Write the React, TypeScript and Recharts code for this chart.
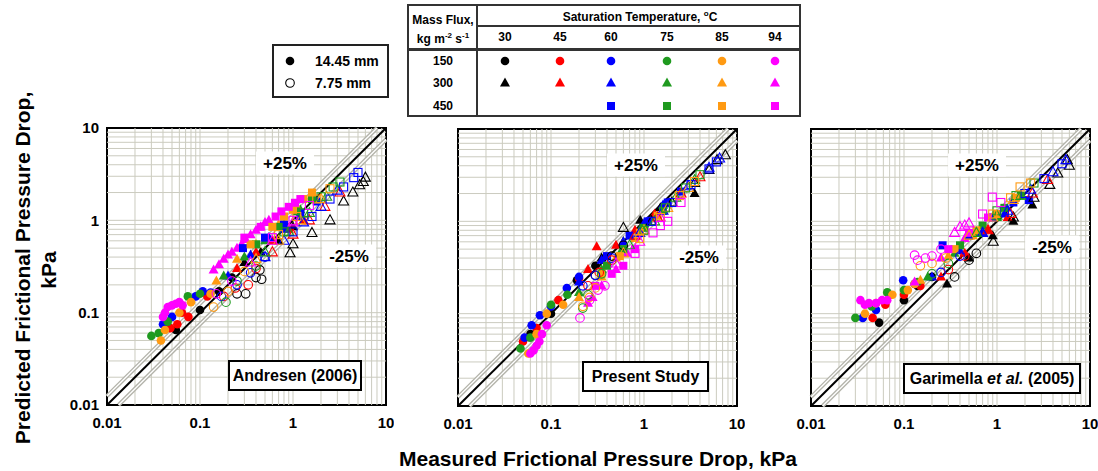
import React from "react";
import {
  ScatterChart,
  Scatter,
  XAxis,
  YAxis,
  ReferenceLine,
  ReferenceArea,
} from "recharts";

type Pt = [number, number];
// mass flux (kg/m2s), saturation temperature (C), [measured, predicted] in kPa
type Group = [number, number, Pt[]];

const fluxes = [150, 300, 450];
const temps = [30, 45, 60, 75, 85, 94];
const axisTicks = [0.01, 0.1, 1, 10];
const gridValues = [
  0.02, 0.03, 0.04, 0.05, 0.06, 0.07, 0.08, 0.09,
  0.1, 0.2, 0.3, 0.4, 0.5, 0.6, 0.7, 0.8, 0.9,
  1, 2, 3, 4, 5, 6, 7, 8, 9,
];

// colour per saturation temperature
const COLORS: Record<number, string> = {
  30: "#000000",
  45: "#ff0000",
  60: "#0000ff",
  75: "#1f9a1f",
  85: "#ff9a12",
  94: "#ff00ff",
};

// ---- Andresen (2006) ----
const andresenLarge: Group[] = [
  [150, 30, [[0.055, 0.065], [0.1, 0.107], [0.16, 0.17], [0.22, 0.24]]],
  [150, 45, [[0.048, 0.068], [0.057, 0.075], [0.064, 0.1], [0.075, 0.09], [0.12, 0.15]]],
  [150, 60, [[0.04, 0.075], [0.05, 0.09], [0.09, 0.15], [0.107, 0.17], [0.13, 0.165]]],
  [150, 75, [[0.03, 0.056], [0.036, 0.06], [0.045, 0.08], [0.074, 0.15], [0.1, 0.16]]],
  [150, 85, [[0.038, 0.05], [0.042, 0.065], [0.06, 0.1], [0.08, 0.13], [0.13, 0.16]]],
  [150, 94, [[0.04, 0.09], [0.042, 0.1], [0.045, 0.115], [0.05, 0.12], [0.055, 0.125], [0.06, 0.13], [0.065, 0.12]]],
  [300, 30, [[0.3, 0.35], [0.45, 0.45], [0.7, 0.6], [1.0, 0.85]]],
  [300, 45, [[0.25, 0.3], [0.4, 0.45], [0.6, 0.6], [0.9, 0.8], [1.3, 1.0]]],
  [300, 60, [[0.2, 0.25], [0.35, 0.42], [0.55, 0.65], [0.8, 0.8], [1.2, 1.1]]],
  [300, 75, [[0.18, 0.25], [0.3, 0.4], [0.5, 0.6], [0.8, 0.9], [1.2, 1.3]]],
  [300, 85, [[0.15, 0.22], [0.25, 0.38], [0.4, 0.55], [0.7, 0.9], [1.1, 1.4]]],
  [300, 94, [[0.14, 0.29], [0.16, 0.33], [0.18, 0.38], [0.2, 0.42], [0.22, 0.45], [0.25, 0.5], [0.28, 0.55], [0.31, 0.62], [0.35, 0.7], [0.4, 0.78], [0.45, 0.85], [0.5, 0.95], [0.55, 1.0]]],
  [450, 60, [[0.29, 0.5], [0.5, 0.65], [0.8, 0.9], [1.2, 1.2], [1.8, 1.6]]],
  [450, 75, [[0.4, 0.55], [0.7, 0.85], [1.1, 1.25], [1.6, 1.7]]],
  [450, 85, [[0.35, 0.55], [0.6, 0.85], [0.8, 1.1], [1.0, 1.3], [1.3, 1.7], [1.6, 2.0]]],
  [450, 94, [[0.3, 0.65], [0.45, 0.85], [0.65, 1.1], [0.75, 1.25], [0.9, 1.4], [1.05, 1.55], [1.2, 1.7]]],
];
const andresenSmall: Group[] = [
  [150, 30, [[0.25, 0.16], [0.31, 0.16], [0.4, 0.24], [0.46, 0.23], [0.44, 0.29]]],
  [150, 45, [[0.18, 0.15], [0.24, 0.185], [0.33, 0.2], [0.4, 0.3]]],
  [150, 60, [[0.17, 0.15], [0.25, 0.2], [0.35, 0.27], [0.5, 0.4]]],
  [150, 75, [[0.19, 0.13], [0.25, 0.22], [0.4, 0.32]]],
  [150, 85, [[0.14, 0.115], [0.2, 0.17], [0.3, 0.28]]],
  [150, 94, [[0.15, 0.16], [0.22, 0.22]]],
  [300, 30, [[0.93, 0.44], [1.0, 0.55], [1.6, 0.73], [2.5, 1.0], [3.5, 1.6], [4.4, 2.0], [5.2, 2.4], [5.7, 2.6], [6.0, 2.9]]],
  [300, 45, [[0.6, 0.45], [1.0, 0.7], [1.5, 1.0], [2.2, 1.4], [3.2, 2.0]]],
  [300, 60, [[0.5, 0.4], [0.8, 0.6], [1.3, 0.95], [2.0, 1.4], [3.0, 2.1]]],
  [300, 75, [[0.5, 0.45], [0.9, 0.75], [1.5, 1.2], [2.3, 1.8]]],
  [300, 85, [[0.4, 0.38], [0.7, 0.6], [1.2, 1.0], [2.0, 1.7]]],
  [300, 94, [[0.35, 0.35], [0.6, 0.6], [1.0, 0.95]]],
  [450, 60, [[1.0, 0.75], [1.6, 1.1], [2.5, 1.7], [3.5, 2.3], [4.5, 2.9], [5.0, 3.3]]],
  [450, 75, [[0.8, 0.75], [1.3, 1.2], [2.0, 1.8], [2.7, 2.3], [3.2, 2.6]]],
  [450, 85, [[0.7, 0.7], [1.1, 1.1], [1.8, 1.7], [2.5, 2.2]]],
  [450, 94, [[0.6, 0.65], [1.0, 1.0], [1.5, 1.45]]],
];

// ---- Present study ----
const presentLarge: Group[] = [
  [150, 30, [[0.06, 0.06], [0.1, 0.1], [0.19, 0.23], [0.3, 0.33]]],
  [150, 45, [[0.05, 0.05], [0.07, 0.07], [0.12, 0.14], [0.2, 0.24]]],
  [150, 60, [[0.052, 0.055], [0.062, 0.075], [0.076, 0.096], [0.1, 0.12], [0.148, 0.19], [0.2, 0.25]]],
  [150, 75, [[0.047, 0.042], [0.06, 0.055], [0.1, 0.125], [0.15, 0.16]]],
  [150, 85, [[0.057, 0.037], [0.07, 0.06], [0.09, 0.1], [0.135, 0.125]]],
  [150, 94, [[0.06, 0.037], [0.065, 0.04], [0.07, 0.045], [0.075, 0.05], [0.08, 0.06], [0.09, 0.075]]],
  [300, 30, [[0.35, 0.4], [0.6, 0.6], [0.91, 1.03], [1.5, 1.4], [3.5, 2.0]]],
  [300, 45, [[0.25, 0.3], [0.31, 0.53], [0.5, 0.55], [0.8, 0.8], [1.3, 1.2]]],
  [300, 60, [[0.2, 0.22], [0.35, 0.38], [0.6, 0.6], [1.0, 0.95], [1.6, 1.5]]],
  [300, 75, [[0.2, 0.17], [0.35, 0.3], [0.55, 0.45], [0.9, 0.8]]],
  [300, 85, [[0.2, 0.15], [0.35, 0.25], [0.5, 0.4], [0.8, 0.65]]],
  [300, 94, [[0.25, 0.13], [0.28, 0.15], [0.35, 0.2], [0.5, 0.3], [0.66, 0.45]]],
  [450, 60, [[0.4, 0.42], [0.7, 0.7], [1.1, 1.0], [1.8, 1.6], [2.5, 2.1]]],
  [450, 75, [[0.4, 0.33], [0.6, 0.5], [1.0, 0.85], [1.6, 1.3]]],
  [450, 85, [[0.35, 0.27], [0.55, 0.42], [0.9, 0.75], [1.4, 1.15]]],
  [450, 94, [[0.3, 0.2], [0.45, 0.27], [0.6, 0.33], [0.8, 0.5]]],
];
const presentSmall: Group[] = [
  [150, 30, [[0.3, 0.26], [0.45, 0.42], [0.6, 0.55]]],
  [150, 45, [[0.25, 0.2], [0.33, 0.28], [0.45, 0.38]]],
  [150, 60, [[0.22, 0.2], [0.3, 0.26], [0.45, 0.4]]],
  [150, 75, [[0.22, 0.115], [0.25, 0.16], [0.35, 0.27]]],
  [150, 85, [[0.22, 0.12], [0.26, 0.15], [0.3, 0.19]]],
  [150, 94, [[0.205, 0.09], [0.26, 0.14], [0.32, 0.18], [0.38, 0.2]]],
  [300, 30, [[0.6, 0.85], [1.2, 1.0], [2.0, 1.6], [3.5, 2.6], [5.0, 3.6], [6.1, 4.6], [7.5, 5.2]]],
  [300, 45, [[0.8, 0.7], [1.4, 1.1], [2.5, 2.0], [4.0, 3.0]]],
  [300, 60, [[0.9, 0.75], [1.6, 1.3], [3.0, 2.4], [5.0, 3.8], [6.5, 4.8]]],
  [300, 75, [[0.7, 0.55], [1.3, 1.0], [2.2, 1.8], [3.5, 2.8]]],
  [300, 85, [[0.6, 0.45], [1.0, 0.8], [1.8, 1.4], [3.0, 2.3]]],
  [300, 94, [[0.5, 0.35], [0.9, 0.6], [1.5, 1.1]]],
  [450, 60, [[1.2, 1.0], [2.0, 1.6], [3.2, 2.5], [5.0, 3.7], [6.0, 4.4]]],
  [450, 75, [[1.0, 0.8], [1.7, 1.4], [2.8, 2.3], [4.0, 3.2]]],
  [450, 85, [[0.9, 0.65], [1.5, 1.1], [2.4, 1.9], [3.5, 2.7]]],
  [450, 94, [[0.8, 0.45], [1.25, 0.75], [1.5, 0.9], [1.8, 1.0], [2.5, 1.6]]],
];

// ---- Garimella et al. (2005) ----
const garimellaLarge: Group[] = [
  [150, 30, [[0.054, 0.08], [0.1, 0.14], [0.14, 0.2], [0.2, 0.25]]],
  [150, 45, [[0.046, 0.09], [0.063, 0.125], [0.1, 0.16], [0.15, 0.2]]],
  [150, 60, [[0.036, 0.09], [0.05, 0.11], [0.07, 0.16], [0.098, 0.23], [0.13, 0.21]]],
  [150, 75, [[0.03, 0.09], [0.045, 0.12], [0.066, 0.17], [0.1, 0.18], [0.14, 0.22]]],
  [150, 85, [[0.038, 0.1], [0.05, 0.13], [0.075, 0.16], [0.11, 0.18], [0.13, 0.21]]],
  [150, 94, [[0.034, 0.14], [0.038, 0.125], [0.042, 0.13], [0.05, 0.13], [0.058, 0.14], [0.066, 0.14]]],
  [300, 30, [[0.29, 0.21], [0.5, 0.4], [0.9, 0.7], [1.5, 1.0], [2.4, 1.5]]],
  [300, 45, [[0.25, 0.25], [0.45, 0.45], [0.8, 0.8], [1.3, 1.1]]],
  [300, 60, [[0.2, 0.25], [0.4, 0.48], [0.7, 0.75], [1.2, 1.2]]],
  [300, 75, [[0.18, 0.25], [0.35, 0.45], [0.6, 0.75], [1.0, 1.1]]],
  [300, 85, [[0.15, 0.23], [0.3, 0.42], [0.55, 0.7], [0.9, 1.1]]],
  [300, 94, [[0.13, 0.22], [0.25, 0.4], [0.45, 0.65]]],
  [450, 60, [[0.26, 0.55], [0.5, 0.7], [0.9, 1.1], [1.5, 1.6], [2.2, 1.7]]],
  [450, 75, [[0.4, 0.55], [0.7, 0.9], [1.2, 1.4], [1.8, 1.9]]],
  [450, 85, [[0.35, 0.5], [0.6, 0.8], [1.0, 1.2], [1.6, 1.8]]],
  [450, 94, [[0.3, 0.5], [0.5, 0.75], [0.8, 1.1]]],
];
const garimellaSmall: Group[] = [
  [150, 30, [[0.35, 0.25], [0.5, 0.38], [0.6, 0.45]]],
  [150, 45, [[0.3, 0.3], [0.45, 0.42]]],
  [150, 60, [[0.25, 0.28], [0.4, 0.42]]],
  [150, 75, [[0.2, 0.27], [0.3, 0.35]]],
  [150, 85, [[0.15, 0.33], [0.2, 0.35], [0.28, 0.4]]],
  [150, 94, [[0.13, 0.43], [0.14, 0.38], [0.17, 0.4], [0.2, 0.42], [0.25, 0.5]]],
  [300, 30, [[0.91, 0.6], [1.5, 1.1], [2.5, 1.8], [3.7, 2.48], [4.5, 3.3], [5.7, 4.6], [6.0, 4.0]]],
  [300, 45, [[0.8, 0.8], [1.4, 1.2], [2.4, 2.0], [3.5, 2.8]]],
  [300, 60, [[0.7, 0.75], [1.3, 1.3], [2.3, 2.2], [4.0, 3.4], [5.5, 4.6]]],
  [300, 75, [[0.6, 0.75], [1.0, 1.15], [1.8, 1.9]]],
  [300, 85, [[0.5, 0.7], [0.9, 1.1], [1.5, 1.7]]],
  [300, 94, [[0.35, 0.75], [0.4, 0.87], [0.45, 0.9], [0.5, 0.95]]],
  [450, 60, [[1.2, 1.3], [2.0, 2.0], [3.2, 2.9], [5.0, 4.2]]],
  [450, 75, [[1.0, 1.3], [1.6, 1.9], [2.5, 2.6]]],
  [450, 85, [[0.9, 1.2], [1.4, 1.8], [1.77, 2.36], [2.3, 2.6]]],
  [450, 94, [[0.7, 1.2], [0.89, 1.83], [1.1, 1.6]]],
];

const FONT = "'Liberation Sans', Arial, sans-serif";
const tickStyle = { fontSize: 15, fontWeight: 700, fill: "#000", fontFamily: FONT };
const GRID = "#cbcbbf";

// one marker glyph: circle = 150, triangle = 300, square = 450
function Glyph({ cx, cy, flux, color, filled }: any) {
  const fill = filled ? color : "none";
  const sw = filled ? 0 : 1.1;
  if (flux === 150)
    return <circle cx={cx} cy={cy} r={4.3} fill={fill} stroke={color} strokeWidth={sw} />;
  if (flux === 300)
    return (
      <polygon
        points={`${cx},${cy - 5.5} ${cx + 5},${cy + 3.5} ${cx - 5},${cy + 3.5}`}
        fill={fill}
        stroke={color}
        strokeWidth={sw}
      />
    );
  return <rect x={cx - 4} y={cy - 4} width={8} height={8} fill={fill} stroke={color} strokeWidth={sw} />;
}

const shapeFor = (flux: number, color: string, filled: boolean) => (props: any) =>
  <Glyph cx={props.cx} cy={props.cy} flux={flux} color={color} filled={filled} />;

const toXY = (pts: Pt[]) => pts.map(([x, y]) => ({ x, y }));

function Panel({ left, top, large, small, showY }: any) {
  return (
    <div style={{ position: "absolute", left, top }}>
      <ScatterChart width={332} height={317} margin={{ top: 10, right: 8, bottom: 0, left: 0 }}>
        <XAxis
          type="number"
          dataKey="x"
          scale="log"
          domain={[0.01, 10]}
          ticks={axisTicks}
          allowDataOverflow
          height={30}
          tickLine={false}
          axisLine={false}
          tickMargin={6}
          tick={tickStyle}
          tickFormatter={(v: number) => String(v)}
        />
        <YAxis
          type="number"
          dataKey="y"
          scale="log"
          domain={[0.01, 10]}
          ticks={axisTicks}
          allowDataOverflow
          width={45}
          tickLine={false}
          axisLine={false}
          tick={showY ? tickStyle : false}
          tickFormatter={(v: number) => String(v)}
        />
        {/* log grid, decades and sub-decades */}
        {gridValues.map((v) => (
          <ReferenceLine key={"gx" + v} x={v} stroke={GRID} strokeWidth={1} />
        ))}
        {gridValues.map((v) => (
          <ReferenceLine key={"gy" + v} y={v} stroke={GRID} strokeWidth={1} />
        ))}
        {/* +/-25% bands */}
        <ReferenceLine segment={[{ x: 0.01, y: 0.0125 }, { x: 8, y: 10 }]} stroke="#b3b3aa" strokeWidth={4} />
        <ReferenceLine segment={[{ x: 0.01, y: 0.0125 }, { x: 8, y: 10 }]} stroke="#ffffff" strokeWidth={1.3} />
        <ReferenceLine segment={[{ x: 0.01333, y: 0.01 }, { x: 10, y: 7.5 }]} stroke="#b3b3aa" strokeWidth={4} />
        <ReferenceLine segment={[{ x: 0.01333, y: 0.01 }, { x: 10, y: 7.5 }]} stroke="#ffffff" strokeWidth={1.3} />
        <ReferenceLine segment={[{ x: 0.01, y: 0.01 }, { x: 10, y: 10 }]} stroke="#000" strokeWidth={2} />
        <ReferenceArea x1={0.01} x2={10} y1={0.01} y2={10} fill="none" stroke="#000" strokeWidth={2} />
        {large.map(([g, t, pts]: Group, i: number) => (
          <Scatter key={"L" + i} data={toXY(pts)} shape={shapeFor(g, COLORS[t], true)} isAnimationActive={false} />
        ))}
        {small.map(([g, t, pts]: Group, i: number) => (
          <Scatter key={"S" + i} data={toXY(pts)} shape={shapeFor(g, COLORS[t], false)} isAnimationActive={false} />
        ))}
      </ScatterChart>
    </div>
  );
}

function Txt({ x, y, size = 12, children, style }: any) {
  return (
    <div
      style={{
        position: "absolute",
        left: x,
        top: y,
        transform: "translate(-50%, -50%)",
        fontSize: size,
        fontWeight: 700,
        whiteSpace: "nowrap",
        lineHeight: 1,
        ...style,
      }}
    >
      {children}
    </div>
  );
}

function Boxed({ x, y, w, h, children }: any) {
  return (
    <div
      style={{
        position: "absolute",
        left: x,
        top: y,
        width: w,
        height: h,
        boxSizing: "border-box",
        border: "2px solid #000",
        background: "#fff",
        display: "flex",
        alignItems: "center",
        justifyContent: "center",
        fontSize: 16,
        fontWeight: 700,
        whiteSpace: "nowrap",
      }}
    >
      {children}
    </div>
  );
}

function Mark({ x, y, flux, t, filled = true }: any) {
  return (
    <svg
      width={14}
      height={14}
      style={{ position: "absolute", left: x - 7, top: y - 7, overflow: "visible" }}
    >
      <Glyph cx={7} cy={7} flux={flux} color={COLORS[t]} filled={filled} />
    </svg>
  );
}

const colX = [505, 560, 611, 667, 722, 775];
const rowY = [61, 83, 106];

const panels = [
  { left: 62, top: 118, large: andresenLarge, small: andresenSmall, showY: true },
  { left: 413, top: 119, large: presentLarge, small: presentSmall, showY: false },
  { left: 766, top: 119, large: garimellaLarge, small: garimellaSmall, showY: false },
];

const pctLabels = [
  { x: 285, y: 163, text: "+25%" },
  { x: 349, y: 256, text: "-25%" },
  { x: 636, y: 165, text: "+25%" },
  { x: 699, y: 257, text: "-25%" },
  { x: 977, y: 165, text: "+25%" },
  { x: 1052, y: 247, text: "-25%" },
];

export default function App() {
  return (
    <div
      style={{
        position: "absolute",
        left: 0,
        top: 0,
        width: 1098,
        height: 471,
        overflow: "hidden",
        background: "#fff",
        fontFamily: FONT,
        color: "#000",
      }}
    >
      {panels.map((p, i) => (
        <Panel key={i} {...p} />
      ))}

      {pctLabels.map((l, i) => (
        <Txt key={i} x={l.x} y={l.y} size={17} style={{ background: "#fff", padding: "3px 7px" }}>
          {l.text}
        </Txt>
      ))}

      <Boxed x={228} y={360} w={134} h={31}>Andresen (2006)</Boxed>
      <Boxed x={582} y={361} w={127} h={31}>Present Study</Boxed>
      <Boxed x={903} y={363} w={178} h={31}>
        <span>
          Garimella <i>et al.</i> (2005)
        </span>
      </Boxed>

      {/* axis titles */}
      <Txt x={598} y={458} size={21}>Measured Frictional Pressure Drop, kPa</Txt>
      <Txt x={22} y={268} size={21} style={{ transform: "translate(-50%, -50%) rotate(-90deg)" }}>
        Predicted Frictional Pressure Drop,
      </Txt>
      <Txt x={48} y={270} size={21} style={{ transform: "translate(-50%, -50%) rotate(-90deg)" }}>
        kPa
      </Txt>

      {/* tube diameter key */}
      <div
        style={{
          position: "absolute",
          left: 272,
          top: 44,
          width: 117,
          height: 54,
          boxSizing: "border-box",
          border: "2px solid #222",
        }}
      />
      <Mark x={290} y={61} flux={150} t={30} />
      <Mark x={290} y={83} flux={150} t={30} filled={false} />
      <div style={{ position: "absolute", left: 315, top: 53, fontSize: 14, fontWeight: 700 }}>14.45 mm</div>
      <div style={{ position: "absolute", left: 315, top: 75, fontSize: 14, fontWeight: 700 }}>7.75 mm</div>

      {/* mass flux / temperature key */}
      <div
        style={{
          position: "absolute",
          left: 407,
          top: 4,
          width: 394,
          height: 113,
          boxSizing: "border-box",
          border: "2px solid #333",
        }}
      />
      <div style={{ position: "absolute", left: 476, top: 4, width: 2, height: 113, background: "#333" }} />
      <div style={{ position: "absolute", left: 477, top: 25, width: 324, height: 1.5, background: "#333" }} />
      <div style={{ position: "absolute", left: 407, top: 48, width: 394, height: 2.5, background: "#333" }} />
      <Txt x={443} y={20}>Mass Flux,</Txt>
      <Txt x={443} y={38}>
        kg m<sup style={{ fontSize: 8 }}>-2</sup> s<sup style={{ fontSize: 8 }}>-1</sup>
      </Txt>
      <Txt x={640} y={16}>
        Saturation Temperature, <sup style={{ fontSize: 8 }}>o</sup>C
      </Txt>
      {temps.map((t, i) => (
        <Txt key={t} x={colX[i]} y={37}>{t}</Txt>
      ))}
      {fluxes.map((g, r) => (
        <Txt key={g} x={443} y={rowY[r]}>{g}</Txt>
      ))}
      {fluxes.map((g, r) =>
        temps.map((t, i) =>
          g === 450 && t < 60 ? null : <Mark key={g + "-" + t} x={colX[i]} y={rowY[r]} flux={g} t={t} />
        )
      )}
    </div>
  );
}
